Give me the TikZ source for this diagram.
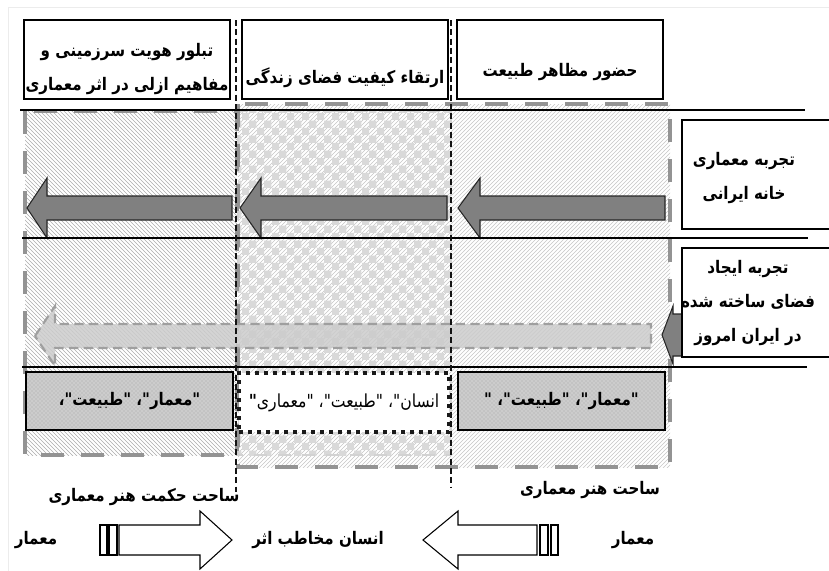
\documentclass[tikz,border=0pt]{standalone}
\usepackage{fontspec}
\newfontfamily\farsi[Script=Arabic, FakeStretch=0.87]{DejaVu Sans}
\TeXXeTstate=1
\usetikzlibrary{patterns, positioning}

\newcommand{\fa}[1]{\beginR #1\endR}
% tip x, base x, tail x, mid y, half shaft, half head
\newcommand{\blockarrow}[6]{(#1,#4) -- (#2,#4-#6) -- (#2,#4-#5) -- (#3,#4-#5) -- (#3,#4+#5) -- (#2,#4+#5) -- (#2,#4+#6) -- cycle}

\begin{document}
\begin{tikzpicture}[x=0.75pt, y=-0.75pt, font=\farsi]
\tikzset{
  zone/.style={draw=gray!85, line width=3.5pt, dash pattern=on 17pt off 13pt},
  rule/.style={line width=0.9pt},
  split/.style={line width=0.9pt, draw=gray!15!black, dash pattern=on 4.5pt off 2.5pt},
  hbox/.style={draw, line width=1pt, fill=white, inner sep=0pt, minimum width=154.5pt, minimum height=59.25pt},
  sbox/.style={draw, line width=1pt, fill=white, inner sep=0pt, minimum width=118.5pt, minimum height=81.75pt},
  cell/.style={draw, line width=0.8pt, preaction={fill=gray!40}, pattern=crosshatch dots, pattern color=gray!70, inner sep=0pt, minimum width=155.25pt, minimum height=43.5pt},
  dotcell/.style={draw=gray!20!black, line width=3pt, dash pattern=on 3pt off 3.75pt, fill=white, inner sep=0pt, minimum width=157.5pt, minimum height=44.25pt},
  lab/.style={font=\farsi\bfseries\fontsize{13}{25.5}\selectfont, align=center, inner sep=0pt},
  txt/.style={font=\farsi\fontsize{13.5}{15}\selectfont, inner sep=0pt},
  solidarrow/.style={fill=gray, draw=gray!30!black, line width=0.8pt},
  faintarrow/.style={fill=gray!40, fill opacity=0.85, draw=gray!75, line width=1.6pt, dash pattern=on 7pt off 4pt},
  openarrow/.style={fill=white, draw=black, line width=0.8pt}
}
\clip (0,0) rectangle (829,571);
\draw[gray!15] (8,7) rectangle (840,580);

\path[pattern=north east lines, pattern color=gray!45] (238,104) rectangle (670,467);
\path[pattern=checkerboard, pattern color=gray!30] (238,111) rectangle (451,455);
\draw[draw=gray!35, line width=2pt, dash pattern=on 10pt off 8pt] (238,111) rectangle (451,455);
\draw[zone] (238,104) rectangle (670,467);
\path[pattern=north west lines, pattern color=gray!65] (25,111) rectangle (237,455);
\draw[zone] (25,111) rectangle (237,455);

\draw[solidarrow] \blockarrow{27}{47}{232}{208}{12}{30};
\draw[solidarrow] \blockarrow{240}{261}{447}{208}{12}{30};
\draw[solidarrow] \blockarrow{458}{480}{665}{208}{12}{30};
\draw[faintarrow] \blockarrow{35}{55}{651}{336}{12}{30};
\draw[solidarrow] \blockarrow{662}{673}{684}{335}{21}{29};

\draw[rule] (20,110) -- (805,110);
\draw[rule] (22,238) -- (808,238);
\draw[rule] (22,367) -- (807,367);
\draw[split] (236,20) -- (236,492);
\draw[split] (451,20) -- (451,488);

\node[hbox] (h1) at (127,59.5) {};
\node[hbox] (h2) at (345,59.5) {};
\node[hbox] (h3) at (560,59.5) {};
\node[lab] (h1t) at (127,69) {\fa{تبلور هویت سرزمینی و}\\\fa{مفاهیم ازلی در اثر معماری}};
\node[lab] (h2t) at (345,78) {\fa{ارتقاء کیفیت فضای زندگی}};
\node[lab] (h3t) at (560,72) {\fa{حضور مظاهر طبیعت}};

\node[sbox] (r1) at (761,174.5) {};
\node[sbox] (r2) at (761,302.5) {};
\node[lab] (r1t) at (744,178) {\fa{تجربه معماری}\\\fa{خانه ایرانی}};
\node[lab] (r2t) at (748,303) {\fa{تجربه ایجاد}\\\fa{فضای ساخته شده}\\\fa{در ایران امروز}};

\node[cell] (c1) at (129.5,401) {};
\node[cell] (c3) at (561.5,401) {};
\node[dotcell] (c2) at (344,402.5) {};
\node[lab] (c1t) at (129.5,401) {\fa{"معمار"، "طبیعت"،}};
\node[lab] (c3t) at (561.5,401) {\fa{"معمار"، "طبیعت"، "}};
\node[txt] (c2t) at (344,403) {\fa{انسان"، "طبیعت"، "معماری{\bfseries"}}};

\node[lab] (s1) at (144,497) {\fa{ساحت حکمت هنر معماری}};
\node[lab] (s2) at (590,490) {\fa{ساحت هنر معماری}};

\draw[openarrow] (100,525) rectangle (107,555);
\draw[openarrow] (109,525) rectangle (117,555);
\draw[openarrow] \blockarrow{232}{200}{119}{540}{15}{29};
\draw[openarrow] (551,525) rectangle (558,555);
\draw[openarrow] (540,525) rectangle (548,555);
\draw[openarrow] \blockarrow{423}{458}{537}{540}{15}{29};

\node[lab] (m1) at (36,540) {\fa{معمار}};
\node[lab] (m2) at (318,540) {\fa{انسان مخاطب اثر}};
\node[lab] (m3) at (633,540) {\fa{معمار}};
\end{tikzpicture}
\end{document}
